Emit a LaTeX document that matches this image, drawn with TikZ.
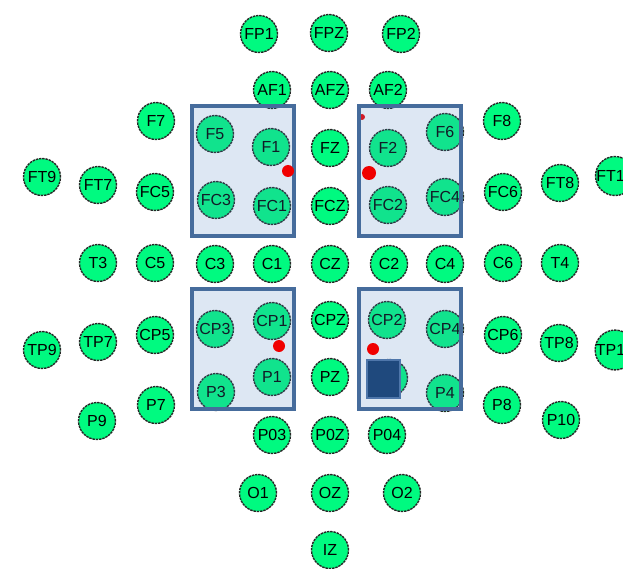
\documentclass[tikz,border=0pt]{standalone}
\usepackage{fontspec}
\setsansfont{Liberation Sans}
\definecolor{eeggreen}{RGB}{0,250,128}
\definecolor{boxfill}{RGB}{85,135,195}
\definecolor{boxedge}{RGB}{70,108,156}
\definecolor{probe}{RGB}{31,73,125}
\definecolor{probeedge}{RGB}{78,118,170}
\definecolor{dotred}{RGB}{240,0,0}
\tikzset{
    electrode/.style={
        circle,
        minimum size=37pt,
        inner sep=0pt,
        fill=eeggreen,
        draw=black!85,
        line width=1.4pt,
        dash pattern=on 2.4pt off 0.9pt,
        font=\fontsize{16}{16}\selectfont\sffamily
    },
    % region of interest box
    roi/.style={
        draw=boxedge,
        line width=4pt,
        fill=boxfill,
        fill opacity=0.2
    },
    marker/.style={fill=dotred, draw=none}
}

\begin{document}
\begin{tikzpicture}[x=1pt,y=-1pt]
    \useasboundingbox (0,0) rectangle (623,569);
    \foreach \n/\x/\y in {
        FP1/259/34, FPZ/329/33, FP2/401/34,
        AF1/272/90, AFZ/330/90, AF2/388/90,
        F7/156/121, F5/215/134, F1/271/147, FZ/330/148, F2/388/148, F6/445/132, F8/502/121,
        FT9/42/177, FT7/98/185, FC5/155/192, FC3/216/200, FC1/272/206, FCZ/330/206,
        FC2/388/205, FC4/445/197, FC6/503/192, FT8/560/183, FT10/615/176,
        T3/98/263, C5/155/263, C3/215/264, C1/272/264, CZ/330/264, C2/389/264,
        C4/445/264, C6/503/263, T4/560/263,
        TP9/42/350, TP7/98/342, CP5/155/335, CP3/215/329, CP1/272/321, CPZ/330/320,
        CP2/387/320, CP4/445/329, CP6/503/335, TP8/559/343, TP10/615/350,
        P9/97/421, P7/156/405, P3/216/392, P1/272/377, PZ/330/377, P2/389/378,
        P4/445/393, P8/502/405, P10/561/420,
        P03/272/435, P0Z/330/435, P04/387/435,
        O1/258/493, OZ/330/493, O2/402/493,
        IZ/330/550}
        \node[electrode] (\n) at (\x,\y) {\n};

    \fill[marker] (362,117) circle (3pt);
    \draw[roi] (192,106) rectangle (294,236);
    \draw[roi] (359,106) rectangle (461,236);
    \draw[roi] (192,289) rectangle (294,409);
    \draw[roi] (359,289) rectangle (461,409);

    \draw[fill=probe, draw=probeedge, line width=1.6pt] (367,360) rectangle (400,398);

    \fill[marker] (288,171) circle (6pt) (369,173) circle (7pt)
        (279,346) circle (6pt) (373,349) circle (6pt);
\end{tikzpicture}
\end{document}
